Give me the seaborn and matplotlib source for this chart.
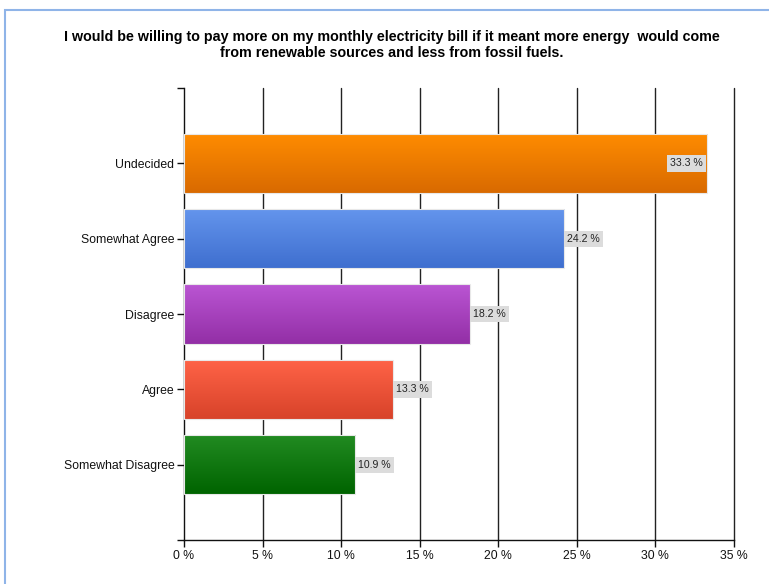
import matplotlib
matplotlib.use("Agg")
import matplotlib.pyplot as plt
import numpy as np
import pandas as pd
import seaborn as sns
from matplotlib.colors import LinearSegmentedColormap
from matplotlib.patches import Rectangle

categories = ["Undecided", "Somewhat Agree", "Disagree", "Agree", "Somewhat Disagree"]
values = [33.3, 24.2, 18.2, 13.3, 10.9]
top_colors = ["#FF8C00", "#6495ED", "#BA55D3", "#FF6347", "#228B22"]
bottom_colors = ["#D96A00", "#3F6FCF", "#932FA6", "#D8432A", "#006400"]
x_ticks = [0, 5, 10, 15, 20, 25, 30, 35]
title = ("I would be willing to pay more on my monthly electricity bill if it meant more energy  would come\n"
         "from renewable sources and less from fossil fuels.")

sns.set_theme(style="white")
plt.rcParams["font.family"] = ["Liberation Sans", "DejaVu Sans"]
plt.rcParams["text.color"] = "#111111"
plt.rcParams["xtick.color"] = "#111111"
plt.rcParams["ytick.color"] = "#111111"

df = pd.DataFrame({"category": categories, "value": values})

fig = plt.figure(figsize=(7.69, 5.84), dpi=100)
ax = fig.add_axes([184 / 769, 1 - 540 / 584, (734 - 184) / 769, (540 - 88) / 584])

sns.barplot(data=df, x="value", y="category", hue="category", palette=top_colors,
            legend=False, width=0.79, ax=ax, zorder=3)

# vertical gradient fill for each bar
for patch, c_top, c_bot in zip(ax.patches, top_colors, bottom_colors):
    x0, y0 = patch.get_x(), patch.get_y()
    w, h = patch.get_width(), patch.get_height()
    cmap = LinearSegmentedColormap.from_list("g", [c_top, c_bot])
    grad = np.linspace(0, 1, 64).reshape(-1, 1)
    im = ax.imshow(grad, cmap=cmap, aspect="auto", extent=(x0, x0 + w, y0 + h, y0),
                   zorder=3.5, interpolation="bilinear")
    im.set_clip_path(patch)
    patch.set_edgecolor("#E8E8E8")
    patch.set_linewidth(0.8)
    patch.set_zorder(4)
    patch.set_facecolor("none")

ax.set_xlim(0, 35)
ax.set_ylim(5, -1)
ax.set_xticks(x_ticks)
ax.set_xticklabels([f"{t} %" for t in x_ticks], fontsize=8.8)
ax.set_yticks(range(len(categories)))
ax.set_yticklabels(categories, fontsize=8.8)
ax.set_yticks([-1, 5], minor=True)
ax.set_xlabel("")
ax.set_ylabel("")

for xv in x_ticks[1:]:
    ax.axvline(xv, color="#222222", linewidth=1.0, zorder=1, clip_on=False)

for side in ["top", "right"]:
    ax.spines[side].set_visible(False)
for side in ["left", "bottom"]:
    ax.spines[side].set_color("#111111")
    ax.spines[side].set_linewidth(1.0)
ax.tick_params(axis="both", which="both", direction="out", length=5, width=1,
               color="#111111", labelcolor="#111111", bottom=True, left=True, pad=2)

# value labels on grey boxes
for i, v in enumerate(values):
    if v > 30:
        x_text, ha = v - 0.3, "right"
    else:
        x_text, ha = v + 0.2, "left"
    ax.text(x_text, i, f"{v} %", ha=ha, va="center", fontsize=7.6, color="#222222", zorder=6,
            bbox=dict(boxstyle="square,pad=0.3", facecolor="#DCDCDC", edgecolor="none"))

fig.text(392 / 769, 1 - 45 / 584, title, ha="center", va="center", fontsize=10.3,
         fontweight="bold", linespacing=1.2, color="#000000")

# thin blue frame around the chart panel
fig.patches.append(Rectangle((5 / 769, -0.01), 1.0, 1 - 10 / 584 + 0.01, transform=fig.transFigure,
                             fill=False, edgecolor="#8FB4E8", linewidth=1.5))

fig.savefig("out.png", dpi=100)
